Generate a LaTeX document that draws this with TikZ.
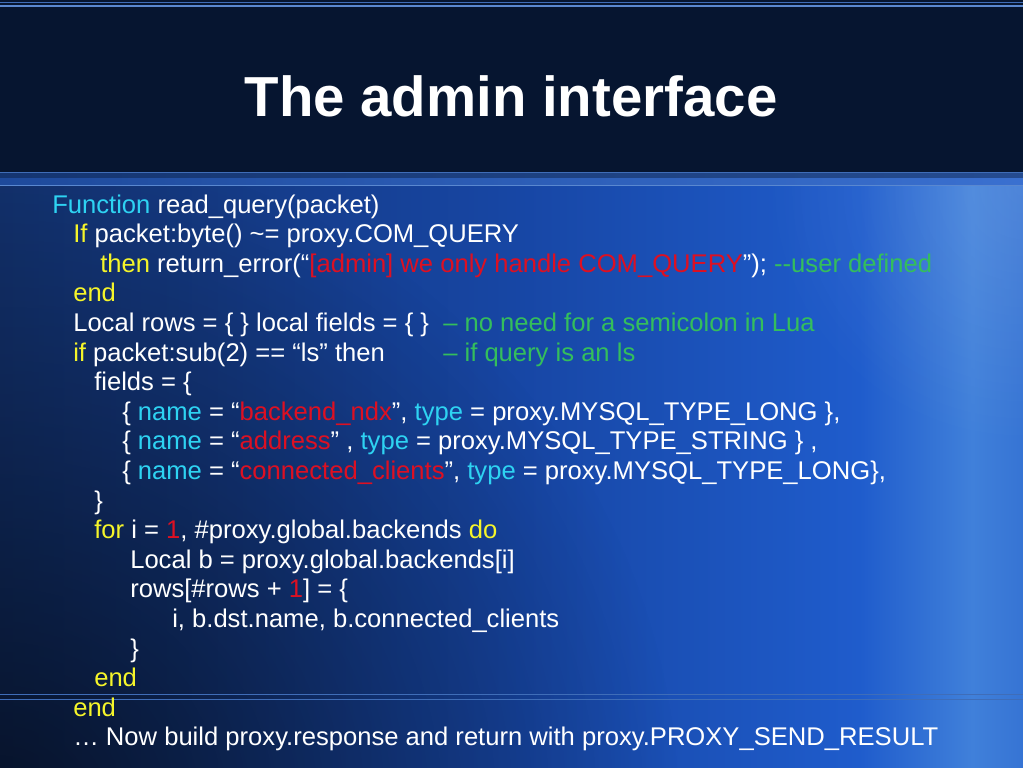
\documentclass[tikz,border=0pt]{standalone}
\usepackage{fontspec}
\setmainfont{Liberation Sans}
\usetikzlibrary{fadings}
\definecolor{navy}{HTML}{061530}
\definecolor{lineA}{HTML}{3F6DB8}
\definecolor{lineB}{HTML}{5A88D0}
\definecolor{bandL}{HTML}{1E4A9C}
\definecolor{bandR}{HTML}{3A70D0}
\definecolor{bodyA}{HTML}{13326F}
\definecolor{bodyB}{HTML}{1746A4}
\definecolor{bodyC}{HTML}{1F5CCC}
\definecolor{bodyD}{HTML}{4080DA}
\definecolor{bodyE}{HTML}{3674D4}
\definecolor{kwcyan}{HTML}{2ED3F2}
\definecolor{kwyellow}{HTML}{F5F52A}
\definecolor{kwred}{HTML}{DD1022}
\definecolor{kwgreen}{HTML}{34BE5C}
\pgfdeclarehorizontalshading{bodyh}{100bp}{color(0bp)=(bodyA); color(25bp)=(bodyA); color(50bp)=(bodyB); color(67bp)=(bodyC); color(72.5bp)=(bodyD); color(75bp)=(bodyE); color(100bp)=(bodyE)}
\tikzfading[name=softdark, inner color=transparent!20, outer color=transparent!100]
\tikzfading[name=softglow, inner color=transparent!40, outer color=transparent!100]
\newcommand{\cy}[1]{\textcolor{kwcyan}{#1}}
\newcommand{\yl}[1]{\textcolor{kwyellow}{#1}}
\newcommand{\rd}[1]{\textcolor{kwred}{#1}}
\newcommand{\gr}[1]{\textcolor{kwgreen}{#1}}
\begin{document}
\begin{tikzpicture}[x=0.75pt,y=-0.75pt,
  code/.style={anchor=base west, inner sep=0pt, text=white, font=\fontsize{19.2}{23}\selectfont},
  titletext/.style={anchor=base, inner sep=0pt, text=white, font=\fontsize{42.3}{50}\selectfont\bfseries}]
\useasboundingbox (0,0) rectangle (1023,767);
% title bar
\fill[navy] (0,0) rectangle (1023,172);
\fill[lineA] (0,2) rectangle (1023,3.5);
\fill[lineB] (0,5) rectangle (1023,7.5);
\fill[lineA] (0,171.5) rectangle (1023,173);
\shade[left color=navy!40!bandL, right color=navy!40!bandR] (0,173) rectangle (1023,177.5);
\fill[lineB] (0,177.5) rectangle (1023,178.5);
\shade[left color=bandL, right color=bandR] (0,178.5) rectangle (1023,184.5);
\fill[lineB] (0,184.5) rectangle (1023,186.5);
% body
\shade[shading=bodyh] (0,186.5) rectangle (1023,767);
\begin{scope}
\clip (0,186.5) rectangle (1023,767);
\fill[black, opacity=0.8, path fading=softdark] (0,820) circle (680);
\fill[white, opacity=0.2, path fading=softglow] (1023,186.5) circle (260);
\end{scope}
\fill[lineA] (0,693.5) rectangle (1023,695);
\fill[lineA] (0,698.5) rectangle (1023,700);
% title
\node[titletext] (title) at (511,116) {The admin interface};
% code lines
\node[code] (l1) at (52,213) {\cy{Function} read\_query(packet)};
\node[code] (l2) at (73,242.6) {\yl{If} packet:byte() \textasciitilde= proxy.COM\_QUERY};
\node[code] (l3) at (100,272.2) {\yl{then} return\_error(“\rd{[admin] we only handle COM\_QUERY}”); \gr{{-}{-}user defined}};
\node[code] (l4) at (73,301.8) {\yl{end}};
\node[code] (l5) at (73,331.4) {Local rows = \{ \} local fields = \{ \}};
\node[code] (c5) at (443,331.4) {\gr{– no need for a semicolon in Lua}};
\node[code] (l6) at (73,361) {\yl{if} packet:sub(2) == “ls” then};
\node[code] (c6) at (443,361) {\gr{– if query is an ls}};
\node[code] (l7) at (94,390.6) {fields = \{};
\node[code] (l8) at (122,420.2) {\{ \cy{name} = “\rd{backend\_ndx}”, \cy{type} = proxy.MYSQL\_TYPE\_LONG \},};
\node[code] (l9) at (122,449.8) {\{ \cy{name} = “\rd{address}” , \cy{type} = proxy.MYSQL\_TYPE\_STRING \} ,};
\node[code] (l10) at (122,479.4) {\{ \cy{name} = “\rd{connected\_clients}”, \cy{type} = proxy.MYSQL\_TYPE\_LONG\},};
\node[code] (l11) at (94,509) {\}};
\node[code] (l12) at (94,538.6) {\yl{for} i = \rd{1}, \#proxy.global.backends \yl{do}};
\node[code] (l13) at (130,568.2) {Local b = proxy.global.backends[i]};
\node[code] (l14) at (130,597.8) {rows[\#rows + \rd{1}] = \{};
\node[code] (l15) at (172,627.4) {i, b.dst.name, b.connected\_clients};
\node[code] (l16) at (130,657) {\}};
\node[code] (l17) at (94,686.6) {\yl{end}};
\node[code] (l18) at (73,716.2) {\yl{end}};
\node[code] (l19) at (73,745.8) {… Now build proxy.response and return with proxy.PROXY\_SEND\_RESULT};
\end{tikzpicture}
\end{document}
